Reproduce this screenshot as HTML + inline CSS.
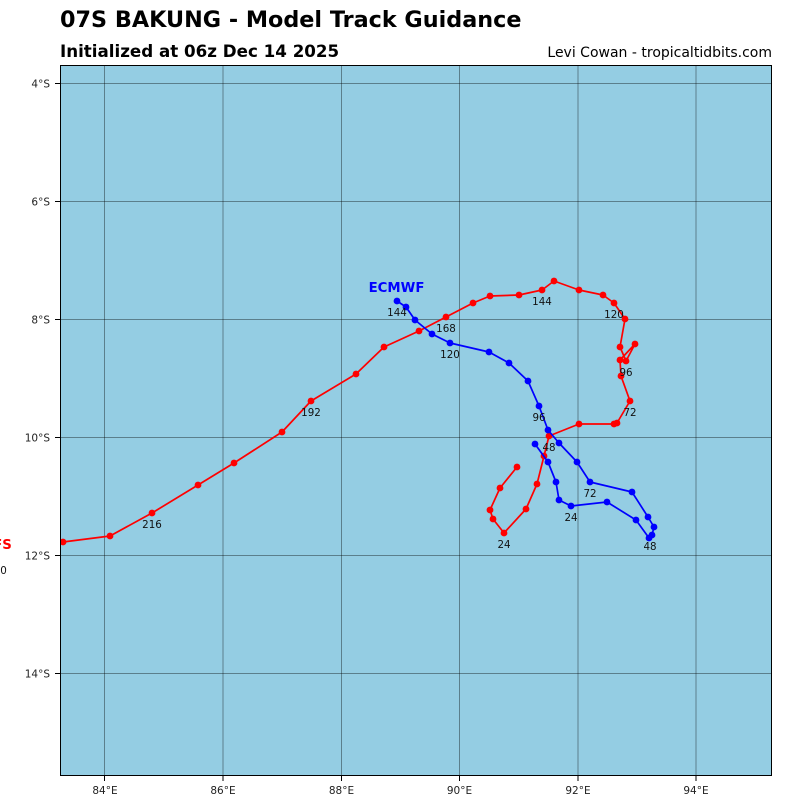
<!DOCTYPE html>
<html>
<head>
<meta charset="utf-8">
<style>
html,body{margin:0;padding:0;background:#fff;}
svg{display:block;}
text{font-family:"DejaVu Sans","Liberation Sans",sans-serif;}
</style>
</head>
<body>
<svg width="800" height="800" viewBox="0 0 800 800" xmlns="http://www.w3.org/2000/svg">
<defs>
<clipPath id="ax"><rect x="60" y="65" width="712" height="711"/></clipPath>
</defs>
<rect x="0" y="0" width="800" height="800" fill="#ffffff"/>
<!-- titles -->
<text x="60" y="27" font-size="22.3px" font-weight="bold" fill="#000">07S BAKUNG - Model Track Guidance</text>
<text x="60" y="57" font-size="16.7px" font-weight="bold" fill="#000">Initialized at 06z Dec 14 2025</text>
<text x="772" y="57" font-size="14px" text-anchor="end" fill="#000">Levi Cowan - tropicaltidbits.com</text>

<!-- plot bg -->
<rect x="60" y="65" width="712" height="711" fill="#94cde3"/>
<!-- grid -->
<g stroke="#000" stroke-opacity="0.38" stroke-width="1">
<line x1="104.5" y1="65" x2="104.5" y2="776"/>
<line x1="223" y1="65" x2="223" y2="776"/>
<line x1="341.5" y1="65" x2="341.5" y2="776"/>
<line x1="459.5" y1="65" x2="459.5" y2="776"/>
<line x1="578" y1="65" x2="578" y2="776"/>
<line x1="696" y1="65" x2="696" y2="776"/>
<line x1="60" y1="83.5" x2="772" y2="83.5"/>
<line x1="60" y1="201.5" x2="772" y2="201.5"/>
<line x1="60" y1="319.5" x2="772" y2="319.5"/>
<line x1="60" y1="437.5" x2="772" y2="437.5"/>
<line x1="60" y1="555.5" x2="772" y2="555.5"/>
<line x1="60" y1="673.5" x2="772" y2="673.5"/>
</g>

<!-- tracks -->
<g clip-path="url(#ax)">
<polyline fill="none" stroke="#ff0000" stroke-width="1.7" stroke-linejoin="round" points="517,467 500,488 490,510 493,519 504,533 526,509 537,484 544,456 549,436 579,424 614,424 617,423 630,401 621,376 620,360 635,344 626,361 620,347 625,319 614,303 603,295 579,290 554,281 542,290 519,295 490,296 473,303 446,317 419,331 384,347 356,374 311,401 282,432 234,463 198,485 152,513 110,536 63,542 30,550 -3,559"/>
<g fill="#ff0000">
<circle cx="517" cy="467" r="3.4"/><circle cx="500" cy="488" r="3.4"/><circle cx="490" cy="510" r="3.4"/><circle cx="493" cy="519" r="3.4"/><circle cx="504" cy="533" r="3.4"/><circle cx="526" cy="509" r="3.4"/><circle cx="537" cy="484" r="3.4"/><circle cx="544" cy="456" r="3.4"/><circle cx="549" cy="436" r="3.4"/><circle cx="579" cy="424" r="3.4"/><circle cx="614" cy="424" r="3.4"/><circle cx="617" cy="423" r="3.4"/><circle cx="630" cy="401" r="3.4"/><circle cx="621" cy="376" r="3.4"/><circle cx="620" cy="360" r="3.4"/><circle cx="635" cy="344" r="3.4"/><circle cx="626" cy="361" r="3.4"/><circle cx="620" cy="347" r="3.4"/><circle cx="625" cy="319" r="3.4"/><circle cx="614" cy="303" r="3.4"/><circle cx="603" cy="295" r="3.4"/><circle cx="579" cy="290" r="3.4"/><circle cx="554" cy="281" r="3.4"/><circle cx="542" cy="290" r="3.4"/><circle cx="519" cy="295" r="3.4"/><circle cx="490" cy="296" r="3.4"/><circle cx="473" cy="303" r="3.4"/><circle cx="446" cy="317" r="3.4"/><circle cx="419" cy="331" r="3.4"/><circle cx="384" cy="347" r="3.4"/><circle cx="356" cy="374" r="3.4"/><circle cx="311" cy="401" r="3.4"/><circle cx="282" cy="432" r="3.4"/><circle cx="234" cy="463" r="3.4"/><circle cx="198" cy="485" r="3.4"/><circle cx="152" cy="513" r="3.4"/><circle cx="110" cy="536" r="3.4"/><circle cx="63" cy="542" r="3.4"/>
</g>
<polyline fill="none" stroke="#0000ff" stroke-width="1.7" stroke-linejoin="round" points="535,444 548,462 556,482 559,500 571,506 607,502 636,520 649,538 652,535 654,527 648,517 632,492 590,482 577,462 559,443 548,430 539,406 528,381 509,363 489,352 450,343 432,334 415,320 406,307 397,301"/>
<g fill="#0000ff">
<circle cx="535" cy="444" r="3.4"/><circle cx="548" cy="462" r="3.4"/><circle cx="556" cy="482" r="3.4"/><circle cx="559" cy="500" r="3.4"/><circle cx="571" cy="506" r="3.4"/><circle cx="607" cy="502" r="3.4"/><circle cx="636" cy="520" r="3.4"/><circle cx="649" cy="538" r="3.4"/><circle cx="652" cy="535" r="3.4"/><circle cx="654" cy="527" r="3.4"/><circle cx="648" cy="517" r="3.4"/><circle cx="632" cy="492" r="3.4"/><circle cx="590" cy="482" r="3.4"/><circle cx="577" cy="462" r="3.4"/><circle cx="559" cy="443" r="3.4"/><circle cx="548" cy="430" r="3.4"/><circle cx="539" cy="406" r="3.4"/><circle cx="528" cy="381" r="3.4"/><circle cx="509" cy="363" r="3.4"/><circle cx="489" cy="352" r="3.4"/><circle cx="450" cy="343" r="3.4"/><circle cx="432" cy="334" r="3.4"/><circle cx="415" cy="320" r="3.4"/><circle cx="406" cy="307" r="3.4"/><circle cx="397" cy="301" r="3.4"/>
</g>
</g>

<!-- track labels -->
<g font-size="10.3px" fill="#111" text-anchor="middle">
<text x="504" y="548">24</text>
<text x="549" y="451">48</text>
<text x="630" y="416">72</text>
<text x="626" y="376">96</text>
<text x="614" y="318">120</text>
<text x="542" y="305">144</text>
<text x="446" y="332">168</text>
<text x="311" y="416">192</text>
<text x="152" y="528">216</text>
<text x="-3" y="574">240</text>
<text x="571" y="521">24</text>
<text x="650" y="550">48</text>
<text x="590" y="497">72</text>
<text x="539" y="421">96</text>
<text x="450" y="358">120</text>
<text x="397" y="316">144</text>
</g>
<text x="396.5" y="292" font-size="13.3px" font-weight="bold" fill="#0000ff" text-anchor="middle">ECMWF</text>
<text x="-3" y="549" font-size="13.3px" font-weight="bold" fill="#ff0000" text-anchor="middle">GFS</text>

<!-- frame -->
<rect x="60.5" y="65.5" width="711" height="710" fill="none" stroke="#000" stroke-width="1"/>
<!-- ticks -->
<g stroke="#000" stroke-width="1">
<line x1="55" y1="83.5" x2="60" y2="83.5"/>
<line x1="55" y1="201.5" x2="60" y2="201.5"/>
<line x1="55" y1="319.5" x2="60" y2="319.5"/>
<line x1="55" y1="437.5" x2="60" y2="437.5"/>
<line x1="55" y1="555.5" x2="60" y2="555.5"/>
<line x1="55" y1="673.5" x2="60" y2="673.5"/>
<line x1="104.5" y1="776" x2="104.5" y2="781"/>
<line x1="223" y1="776" x2="223" y2="781"/>
<line x1="341.5" y1="776" x2="341.5" y2="781"/>
<line x1="459.5" y1="776" x2="459.5" y2="781"/>
<line x1="578" y1="776" x2="578" y2="781"/>
<line x1="696" y1="776" x2="696" y2="781"/>
</g>
<g font-size="10.5px" fill="#222" text-anchor="end">
<text x="50" y="87.5">4°S</text>
<text x="50" y="205.5">6°S</text>
<text x="50" y="323.5">8°S</text>
<text x="50" y="441.5">10°S</text>
<text x="50" y="559.5">12°S</text>
<text x="50" y="677.5">14°S</text>
</g>
<g font-size="10.5px" fill="#222" text-anchor="middle">
<text x="105" y="794">84°E</text>
<text x="223" y="794">86°E</text>
<text x="341.5" y="794">88°E</text>
<text x="459.5" y="794">90°E</text>
<text x="578" y="794">92°E</text>
<text x="696" y="794">94°E</text>
</g>
</svg>
</body>
</html>
